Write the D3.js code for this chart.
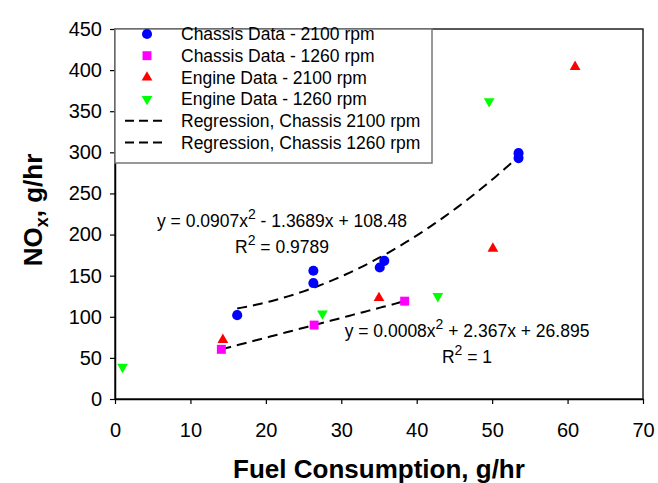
<!DOCTYPE html>
<html>
<head>
<meta charset="utf-8">
<script src="https://cdn.jsdelivr.net/npm/d3@7"></script>
<style>
  html, body { margin: 0; padding: 0; background: #fff; }
  svg { display: block; font-family: "Liberation Sans", Arial, sans-serif; }
</style>
</head>
<body>
<svg id="chart" width="658" height="483"></svg>
<script>
// NOx emissions vs. fuel consumption, chassis and engine dynamometer data
const xTicks = [0, 10, 20, 30, 40, 50, 60, 70];
const yTicks = [0, 50, 100, 150, 200, 250, 300, 350, 400, 450];

const chassis2100 = [[16.2, 102], [26.3, 141], [26.3, 156], [35.1, 160], [35.7, 168], [53.5, 293], [53.5, 299]];
const chassis1260 = [[14.1, 60.4], [26.4, 89.9], [38.4, 119.0]];
const engine2100 = [[14.3, 72], [35.0, 123], [50.1, 183], [61.0, 404]];
const engine1260 = [[1.0, 39], [27.5, 104], [42.8, 125], [49.6, 362]];

// quadratic fits: [a, b, c] for y = a x^2 + b x + c, drawn over the data range
const fit2100 = [0.0907, -1.3689, 108.48];
const fit2100Range = [16.2, 53.5];
const fit1260 = [0.0008, 2.367, 26.895];
const fit1260Range = [14.1, 38.4];

const legendLabels = [
  "Chassis Data - 2100 rpm",
  "Chassis Data - 1260 rpm",
  "Engine Data - 2100 rpm",
  "Engine Data - 1260 rpm",
  "Regression, Chassis 2100 rpm",
  "Regression, Chassis 1260 rpm"
];

const svg = d3.select("#chart");
const plot = { left: 115, right: 643, top: 29, bottom: 399 };

const x = d3.scaleLinear().domain([0, 70]).range([plot.left, plot.right]);
const y = d3.scaleLinear().domain([0, 450]).range([plot.bottom, plot.top]);

// plot frame
svg.append("rect")
  .attr("x", plot.left).attr("y", plot.top)
  .attr("width", plot.right - plot.left).attr("height", plot.bottom - plot.top)
  .attr("fill", "none").attr("stroke", "#222").attr("stroke-width", 1.5);

// axes
const xAxis = svg.append("g")
  .attr("transform", `translate(0,${plot.bottom})`)
  .call(d3.axisBottom(x).tickValues(xTicks).tickSize(5).tickSizeOuter(0).tickPadding(19));
const yAxis = svg.append("g")
  .attr("transform", `translate(${plot.left},0)`)
  .call(d3.axisLeft(y).tickValues(yTicks).tickSize(5).tickSizeOuter(0).tickPadding(8));

[xAxis, yAxis].forEach(g => {
  g.select(".domain").attr("stroke", "#000").attr("stroke-width", 1.5);
  g.selectAll(".tick line").attr("stroke", "#000").attr("stroke-width", 1.2);
  g.selectAll(".tick text")
    .attr("font-family", "Liberation Sans, Arial, sans-serif")
    .attr("font-size", 20).attr("fill", "#000");
});

// axis titles
svg.append("text")
  .attr("x", (plot.left + plot.right) / 2).attr("y", 478)
  .attr("text-anchor", "middle")
  .attr("font-size", 26).attr("font-weight", "bold")
  .text("Fuel Consumption, g/hr");

const yTitle = svg.append("text")
  .attr("transform", "translate(42,210) rotate(-90)")
  .attr("text-anchor", "middle")
  .attr("font-size", 26).attr("font-weight", "bold");
yTitle.append("tspan").text("NO");
yTitle.append("tspan").attr("font-size", 18).attr("dy", 6).text("x");
yTitle.append("tspan").attr("dy", -6).text(", g/hr");

// regression curves
function fitPoints(c, range) {
  const n = 60;
  return d3.range(n + 1).map(i => {
    const xv = range[0] + (range[1] - range[0]) * i / n;
    return [xv, c[0] * xv * xv + c[1] * xv + c[2]];
  });
}
const line = d3.line().x(d => x(d[0])).y(d => y(d[1]));
[[fit2100, fit2100Range], [fit1260, fit1260Range]].forEach(([c, r]) => {
  svg.append("path")
    .attr("d", line(fitPoints(c, r)))
    .attr("fill", "none").attr("stroke", "#000")
    .attr("stroke-width", 2).attr("stroke-dasharray", "10,6");
});

// markers
const seriesStyle = [
  { data: chassis2100, type: d3.symbolCircle, size: 80, color: "#0000ff", rot: 0 },
  { data: chassis1260, type: d3.symbolSquare, size: 80, color: "#ff00ff", rot: 0 },
  { data: engine2100, type: d3.symbolTriangle, size: 50, color: "#ff0000", rot: 0 },
  { data: engine1260, type: d3.symbolTriangle, size: 50, color: "#00ff00", rot: 180 }
];
seriesStyle.forEach(s => {
  svg.append("g").selectAll("path")
    .data(s.data).join("path")
    .attr("d", d3.symbol().type(s.type).size(s.size))
    .attr("transform", d => `translate(${x(d[0])},${y(d[1])}) rotate(${s.rot})`)
    .attr("fill", s.color);
});

// equation labels; segments are [text, isSuperscript]
function equation(cx, cy, segments) {
  const t = svg.append("text")
    .attr("x", cx).attr("y", cy)
    .attr("text-anchor", "middle").attr("font-size", 17.5).attr("fill", "#000");
  let raised = false;
  segments.forEach(([str, isSup]) => {
    if (isSup) {
      t.append("tspan").attr("font-size", 14).attr("dy", -8).text(str);
      raised = true;
    } else {
      t.append("tspan").attr("dy", raised ? 8 : 0).text(str);
      raised = false;
    }
  });
}
equation(282, 227, [["y = 0.0907x", false], ["2", true], [" - 1.3689x + 108.48", false]]);
equation(282, 253, [["R", false], ["2", true], [" = 0.9789", false]]);
equation(467, 337, [["y = 0.0008x", false], ["2", true], [" + 2.367x + 26.895", false]]);
equation(467, 363, [["R", false], ["2", true], [" = 1", false]]);

// legend
const legend = svg.append("g");
legend.append("rect")
  .attr("x", plot.left).attr("y", plot.top)
  .attr("width", 432 - plot.left).attr("height", 163 - plot.top)
  .attr("fill", "#fff").attr("stroke", "#777").attr("stroke-width", 1.5);
const rowY = i => 34 + i * 21.7;
legendLabels.forEach((label, i) => {
  const cy = rowY(i);
  if (i < 4) {
    const s = seriesStyle[i];
    legend.append("path")
      .attr("d", d3.symbol().type(s.type).size(s.size))
      .attr("transform", `translate(147,${cy}) rotate(${s.rot})`)
      .attr("fill", s.color);
  } else {
    legend.append("line")
      .attr("x1", 125).attr("x2", 164).attr("y1", cy).attr("y2", cy)
      .attr("stroke", "#000").attr("stroke-width", 2).attr("stroke-dasharray", "9,5");
  }
  legend.append("text")
    .attr("x", 181).attr("y", cy + 6.3)
    .attr("font-size", 17.5).attr("fill", "#000")
    .text(label);
});
</script>
</body>
</html>
